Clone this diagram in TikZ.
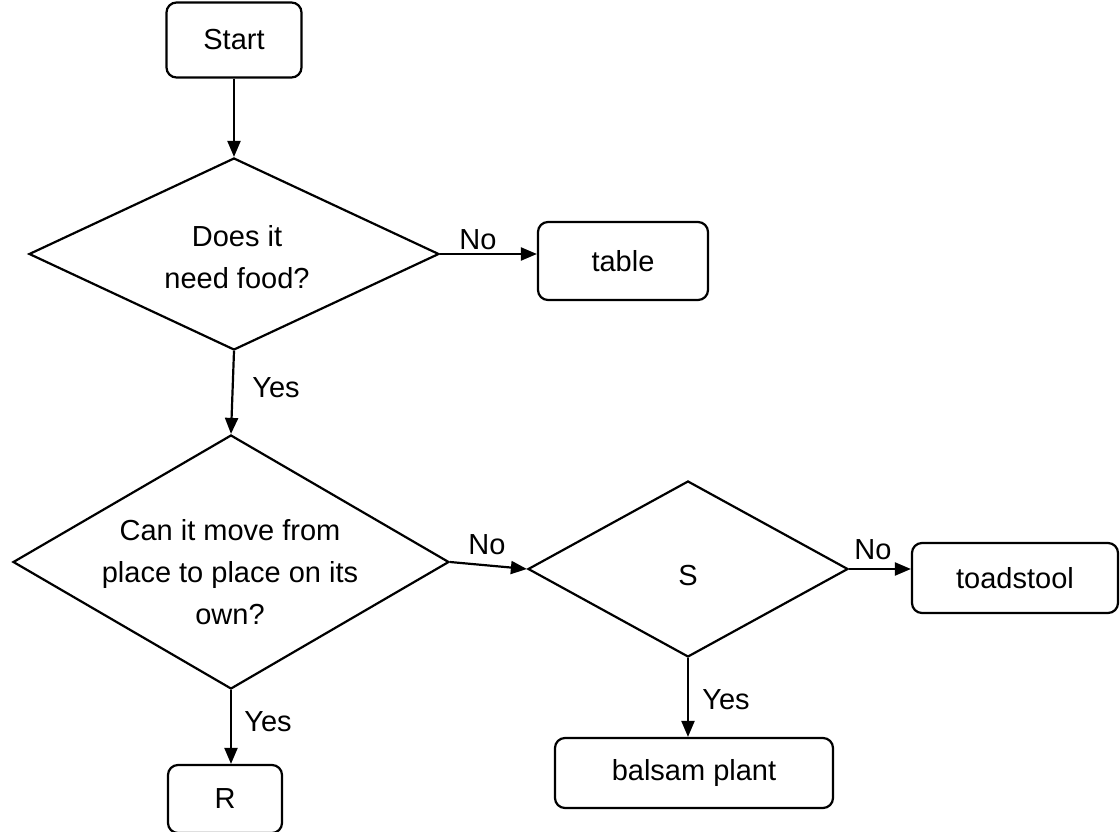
\documentclass[tikz,border=0pt]{standalone}
\usepackage{fontspec}
\setmainfont{Liberation Sans}
\usetikzlibrary{shapes.geometric,arrows.meta}
\begin{document}
\begin{tikzpicture}[x=1pt,y=-1pt,
  every node/.style={font=\fontsize{29}{42}\selectfont},
  box/.style={draw,line width=2.2pt,rounded corners=10pt,inner sep=0pt},
  dia/.style={draw,line width=2.2pt,diamond,inner sep=0pt},
  txt/.style={align=center,inner sep=0pt},
  lab/.style={inner sep=0pt},
  arr/.style={line width=2.2pt,-{Triangle[length=16pt,width=13pt]}}]
\useasboundingbox (0,0) rectangle (1120,832);
\node[box,minimum width=135pt,minimum height=75pt] (start) at (234,40) {Start};
\node[dia,minimum width=410pt,minimum height=192pt] (d1) at (234,254) {};
\node[txt] (t1) at (237,257) {Does it\\need food?};
\node[box,minimum width=170pt,minimum height=78pt] (table) at (623,261) {table};
\node[dia,minimum width=436pt,minimum height=254pt] (d2) at (231,562) {};
\node[txt] (t2) at (230,572) {Can it move from\\place to place on its\\own?};
\node[dia,minimum width=320pt,minimum height=176pt] (s) at (688,569) {};
\node[txt] (ts) at (688,576) {S};
\node[box,minimum width=206pt,minimum height=70pt] (toad) at (1015,578) {toadstool};
\node[box,minimum width=278pt,minimum height=70pt] (balsam) at (694,773) {balsam plant};
\node[box,minimum width=114pt,minimum height=68pt] (r) at (225,799) {R};
\draw[arr] (start.south -| d1.north) -- (d1.north);
\draw[arr] (d1.east) -- (table.west |- d1.east);
\draw[arr] (d1.south) -- (d2.north);
\draw[arr] (d2.east) -- (s.west);
\draw[arr] (s.east) -- (toad.west |- s.east);
\draw[arr] (s.south) -- (s.south |- balsam.north);
\draw[arr] (d2.south) -- (d2.south |- r.north);
\node[lab] (l1) at (478,240) {No};
\node[lab] (l2) at (276,388) {Yes};
\node[lab] (l3) at (487,545) {No};
\node[lab] (l4) at (873,550) {No};
\node[lab] (l5) at (726,700) {Yes};
\node[lab] (l6) at (268,722) {Yes};
\end{tikzpicture}
\end{document}
